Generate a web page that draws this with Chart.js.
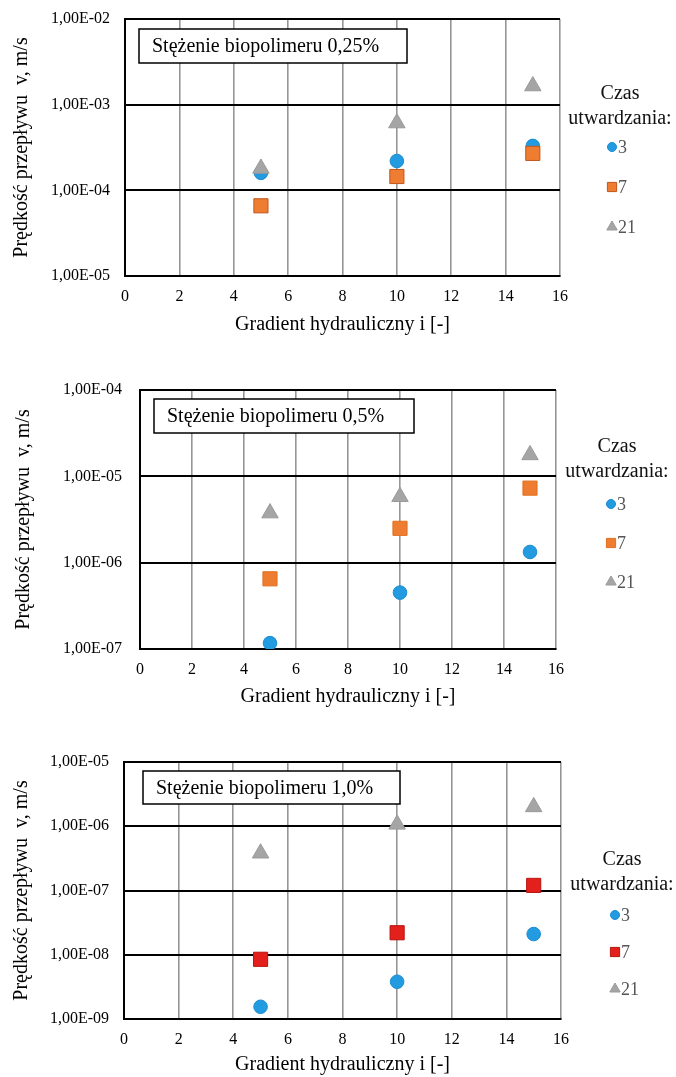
<!DOCTYPE html>
<html>
<head>
<meta charset="utf-8">
<script src="https://cdn.jsdelivr.net/npm/chart.js@4/dist/chart.umd.min.js"></script>
<style>
  body { margin: 0; background: #fff; }
  .box { position: absolute; left: 0; width: 676px; }
  canvas { display: block; }
</style>
</head>
<body>
<div class="box" style="top:0px"><canvas id="c1" width="676" height="340"></canvas></div>
<div class="box" style="top:340px"><canvas id="c2" width="676" height="372"></canvas></div>
<div class="box" style="top:740px"><canvas id="c3" width="676" height="337"></canvas></div>
<script>
// gradient hydrauliczny (x) and czas utwardzania (series)
const gradient = [5, 10, 15];
const curingTimes = ['3', '7', '21'];
const xTicks = [0, 2, 4, 6, 8, 10, 12, 14, 16];

// stezenie 0,25%
const v025_t3 = [1.6e-4, 2.2e-4, 3.3e-4];
const v025_t7 = [6.6e-5, 1.45e-4, 2.7e-4];
const v025_t21 = [1.8e-4, 6.1e-4, 1.65e-3];
const yTicks025 = [1e-5, 1e-4, 1e-3, 1e-2];

// stezenie 0,5%
const v05_t3 = [1.17e-7, 4.5e-7, 1.33e-6];
const v05_t7 = [6.5e-7, 2.5e-6, 7.3e-6];
const v05_t21 = [3.75e-6, 5.8e-6, 1.77e-5];
const yTicks05 = [1e-7, 1e-6, 1e-5, 1e-4];

// stezenie 1,0%
const v10_t3 = [1.55e-9, 3.8e-9, 2.1e-8];
const v10_t7 = [8.5e-9, 2.2e-8, 1.2e-7];
const v10_t21 = [3.8e-7, 1.07e-6, 2.0e-6];
const yTicks10 = [1e-9, 1e-8, 1e-7, 1e-6, 1e-5];

const SERIF = '"Liberation Serif", "DejaVu Serif", serif';

const fmtExp = v => {
    const e = Math.round(Math.log10(v));
    return '1,00E' + (e < 0 ? '-' : '+') + String(Math.abs(e)).padStart(2, '0');
};

const captionPlugin = {
    id: 'caption',
    afterDraw: (chart, args, o) => {
        const {ctx, chartArea} = chart;
        const x = chartArea.left + o.dx, y = chartArea.top + o.dy;
        ctx.save();
        ctx.fillStyle = '#fff';
        ctx.fillRect(x, y, o.w, o.h);
        ctx.strokeStyle = '#000';
        ctx.lineWidth = 1.5;
        ctx.strokeRect(x, y, o.w, o.h);
        ctx.fillStyle = '#000';
        ctx.font = '20px ' + SERIF;
        ctx.textBaseline = 'middle';
        ctx.textAlign = 'left';
        ctx.fillText(o.text, x + 13, y + o.h / 2 + 1);
        ctx.restore();
    }
};

const legendPlugin = {
    id: 'czasLegend',
    afterDraw: (chart, args, o) => {
        const {ctx} = chart;
        ctx.save();
        ctx.fillStyle = '#111';
        ctx.font = '20px ' + SERIF;
        ctx.textAlign = 'center';
        ctx.textBaseline = 'middle';
        ctx.fillText('Czas', o.x, o.y);
        ctx.fillText('utwardzania:', o.x, o.y + 25);
        chart.data.datasets.forEach((ds, i) => {
            const y = o.y + o.first + i * o.gap;
            ctx.fillStyle = ds.backgroundColor;
            ctx.strokeStyle = ds.borderColor;
            ctx.lineWidth = 1;
            Chart.helpers.drawPoint(ctx, {pointStyle: ds.pointStyle, radius: ds.legendRadius, borderWidth: 1, rotation: 0}, o.markX, y);
            ctx.fillStyle = '#555';
            ctx.font = '18px ' + SERIF;
            ctx.textAlign = 'left';
            ctx.fillText(ds.label, o.markX + 6, y + 1);
        });
        ctx.restore();
    }
};

const makeDatasets = (s3, s7, s21, sqColor, sqBorder) => [
    {
        label: curingTimes[0],
        data: gradient.map((x, i) => ({x: x, y: s3[i]})),
        pointStyle: 'circle', pointRadius: 6.8, legendRadius: 4.5,
        backgroundColor: '#239be0', borderColor: '#1c8bd0', borderWidth: 1,
        order: 3
    },
    {
        label: curingTimes[1],
        data: gradient.map((x, i) => ({x: x, y: s7[i]})),
        pointStyle: 'rect', pointRadius: 10, legendRadius: 6.5,
        backgroundColor: sqColor, borderColor: sqBorder, borderWidth: 1,
        order: 2
    },
    {
        label: curingTimes[2],
        data: gradient.map((x, i) => ({x: x, y: s21[i]})),
        pointStyle: 'triangle', pointRadius: 9.5, legendRadius: 6,
        backgroundColor: '#a5a5a5', borderColor: '#9a9a9a', borderWidth: 1,
        order: 1
    }
];

const makeChart = (id, datasets, yTicks, lay) => {
    return new Chart(document.getElementById(id), {
        type: 'scatter',
        data: {datasets: datasets},
        options: {
            responsive: false,
            animation: false,
            layout: {padding: {left: 0, right: lay.padR, top: lay.padT, bottom: lay.padB}},
            plugins: {
                legend: {display: false},
                tooltip: {enabled: false},
                caption: lay.caption,
                czasLegend: lay.legend
            },
            scales: {
                x: {
                    type: 'linear', min: 0, max: 16,
                    afterBuildTicks: s => { s.ticks = xTicks.map(v => ({value: v})); },
                    afterFit: s => { s.height = lay.xH; },
                    grid: {color: '#969696', lineWidth: 1.6, drawTicks: false},
                    border: {color: '#000', width: 2},
                    ticks: {color: '#000', font: {family: SERIF, size: 16}, padding: 11, maxRotation: 0},
                    title: {display: true, text: 'Gradient hydrauliczny i [-]', color: '#000',
                        font: {family: SERIF, size: 20}, padding: {top: 0, bottom: lay.titleB}}
                },
                y: {
                    type: 'logarithmic', min: yTicks[0], max: yTicks[yTicks.length - 1],
                    afterBuildTicks: s => { s.ticks = yTicks.map(v => ({value: v})); },
                    afterFit: s => { s.width = lay.yW; s.paddingTop = 0; s.paddingBottom = 0; },
                    grid: {color: '#000', lineWidth: 2, drawTicks: false},
                    border: {color: '#000', width: 2},
                    ticks: {color: '#000', font: {family: SERIF, size: 16}, padding: lay.yPad, callback: v => fmtExp(v), autoSkip: false},
                    title: {display: true, text: 'Prędkość przepływu  v, m/s', color: '#000',
                        font: {family: SERIF, size: 20}, padding: {top: lay.titleL, bottom: 0}}
                }
            }
        },
        plugins: [captionPlugin, legendPlugin]
    });
};

makeChart('c1', makeDatasets(v025_t3, v025_t7, v025_t21, '#ee7d31', '#c0561a'), yTicks025, {
    padR: 116, padT: 19, padB: 2, xH: 62, titleB: 1, yW: 125, yPad: 15, titleL: 10,
    caption: {text: 'Stężenie biopolimeru 0,25%', dx: 14, dy: 10, w: 268, h: 34},
    legend: {x: 620, y: 94, first: 53, gap: 40, markX: 612}
});

makeChart('c2', makeDatasets(v05_t3, v05_t7, v05_t21, '#ee7d31', '#e07020'), yTicks05, {
    padR: 120, padT: 50, padB: 2, xH: 61, titleB: 1, yW: 140, yPad: 18, titleL: 12,
    caption: {text: 'Stężenie biopolimeru 0,5%', dx: 14, dy: 9, w: 260, h: 34},
    legend: {x: 617, y: 107, first: 57, gap: 39, markX: 611}
});

makeChart('c3', makeDatasets(v10_t3, v10_t7, v10_t21, '#e3201b', '#b81510'), yTicks10, {
    padR: 115, padT: 22, padB: 0, xH: 58, titleB: 0, yW: 124, yPad: 15, titleL: 10,
    caption: {text: 'Stężenie biopolimeru 1,0%', dx: 19, dy: 9, w: 257, h: 33},
    legend: {x: 622, y: 120, first: 55, gap: 37, markX: 615}
});
</script>
</body>
</html>
